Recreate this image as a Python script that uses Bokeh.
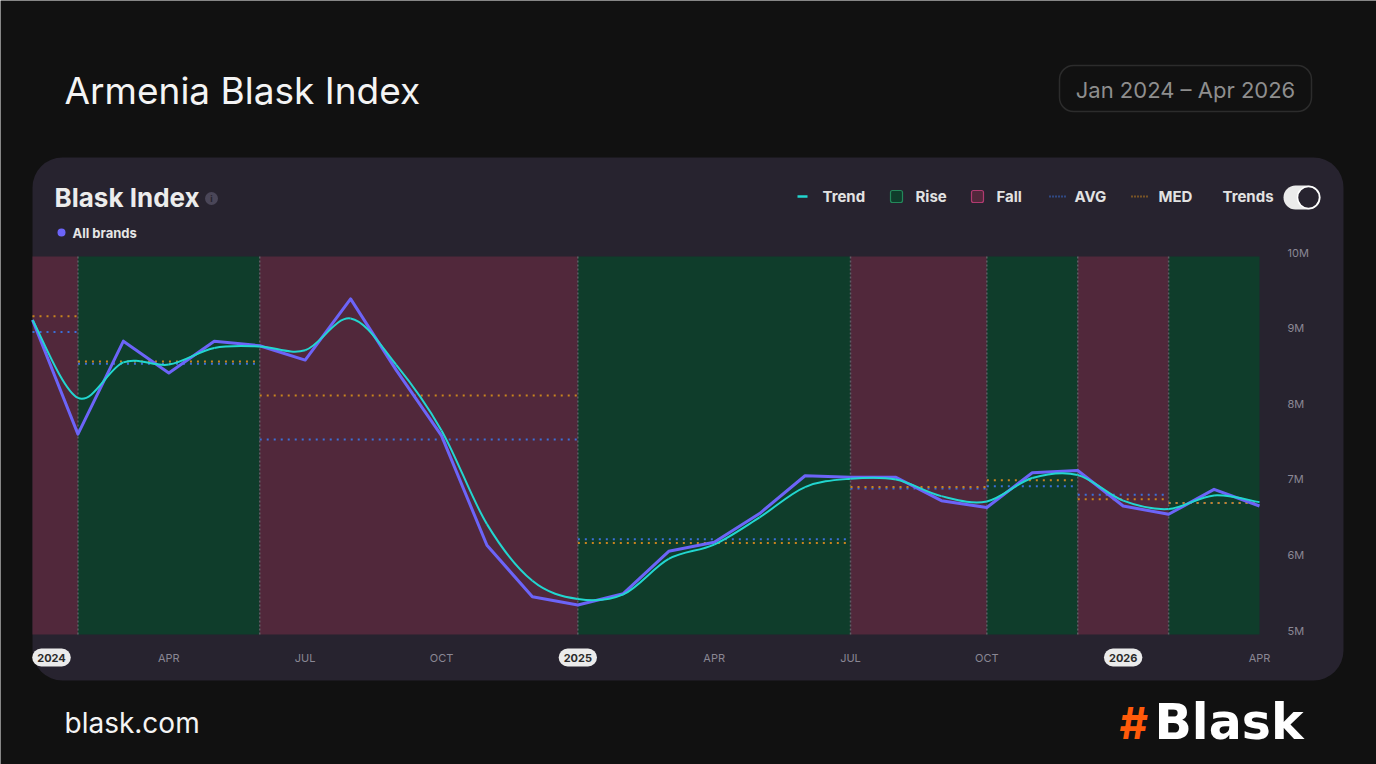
from bokeh.plotting import figure
from bokeh.models import Range1d
from bokeh.core.properties import value
from bokeh.embed import file_html
from bokeh.resources import INLINE

# ---------------- data ----------------
months = ["2024-01", "2024-02", "2024-03", "2024-04", "2024-05", "2024-06", "2024-07",
          "2024-08", "2024-09", "2024-10", "2024-11", "2024-12", "2025-01", "2025-02",
          "2025-03", "2025-04", "2025-05", "2025-06", "2025-07", "2025-08", "2025-09",
          "2025-10", "2025-11", "2025-12", "2026-01", "2026-02", "2026-03", "2026-04"]
blask_index = [9.16, 7.65, 8.88, 8.46, 8.88, 8.82, 8.63, 9.44, 8.50, 7.63, 6.18, 5.50,
               5.39, 5.54, 6.10, 6.22, 6.60, 7.10, 7.08, 7.08, 6.77, 6.68, 7.14, 7.17,
               6.70, 6.59, 6.92, 6.70]
trend = [9.16, 8.13, 8.60, 8.57, 8.79, 8.81, 8.76, 9.18, 8.57, 7.70, 6.46, 5.71,
         5.47, 5.53, 6.00, 6.19, 6.55, 6.95, 7.06, 7.05, 6.83, 6.76, 7.07, 7.11,
         6.77, 6.66, 6.84, 6.75]
seg_start = [0, 1, 5, 12, 18, 21, 23, 25]
seg_end = [1, 5, 12, 18, 21, 23, 25, 27]
seg_kind = ["Fall", "Rise", "Fall", "Rise", "Fall", "Rise", "Fall", "Rise"]
seg_avg = [9.00, 8.58, 7.58, 6.26, 6.93, 6.96, 6.85, 6.74]
seg_med = [9.21, 8.61, 8.16, 6.21, 6.95, 7.04, 6.79, 6.74]
x_tick_pos = [3, 6, 9, 15, 18, 21, 27]
x_tick_labels = ["APR", "JUL", "OCT", "APR", "JUL", "OCT", "APR"]
year_pos = [0, 12, 24]
year_labels = ["2024", "2025", "2026"]
y_ticks = [5, 6, 7, 8, 9, 10]
y_tick_labels = ["5M", "6M", "7M", "8M", "9M", "10M"]

# ---------------- style / layout ----------------
PAGE = "#111111"
CARD = "#27232f"
RISE = "#0f3d2b"
FALL = "#51283b"
PURPLE = "#6c64f8"
CYAN = "#22d6cf"
AVG_C = "#3b6fd8"
MED_C = "#c8841e"
AXIS_C = "#8a8794"
FONT = "Inter"

W, H = 1376, 764
PL, PR, PT, PB = 32, 1259, 256, 634        # plot area in page pixels
VMIN, VMAX = 5, 10
NM = len(months) - 1

mpp = NM / (PR - PL)                        # months per pixel
vpp = (VMAX - VMIN) / (PB - PT)             # value per pixel

p = figure(width=W, height=H, output_backend="svg", toolbar_location=None,
           x_range=Range1d(0, W), y_range=Range1d(H, 0),
           min_border=0, x_axis_location=None, y_axis_location=None)
p.extra_x_ranges = {"m": Range1d(-PL * mpp, NM + (W - PR) * mpp)}
p.extra_y_ranges = {"v": Range1d(VMIN - (H - PB) * vpp, VMAX + PT * vpp)}
p.border_fill_color = PAGE
p.background_fill_color = PAGE
p.outline_line_color = None
p.xgrid.visible = False
p.ygrid.visible = False


def rbox(x0, x1, y0, y1, color, radius=0, line=None, lw=1):
    p.quad(left=[x0], right=[x1], top=[y0], bottom=[y1], fill_color=color,
           line_color=line, line_width=lw, border_radius=radius)


def txt(t, x, y, size, color, style="normal", align="left", font=FONT):
    p.text(x=[x], y=[y], text=[t], text_font=value(font), text_font_size=f"{size}px",
           text_color=color, text_font_style=style, text_align=align,
           text_baseline="middle")


# page header
txt("Armenia Blask Index", 64, 90, 37, "#f4f4f4")
rbox(1059, 1311, 65, 111, PAGE, radius=14, line="#2c2c2c", lw=1.5)
txt("Jan 2024 – Apr 2026", 1185, 89, 22, "#8e8e8e", align="center")

# card
rbox(32, 1343, 157, 680, CARD, radius=30)
txt("Blask Index", 54, 197, 26, "#ececec", style="bold")
p.circle(x=[211], y=[198], radius=6.5, fill_color="#4a4658", line_color=None)
txt("i", 211, 198, 9, CARD, style="bold", align="center")
p.circle(x=[61], y=[232], radius=4, fill_color=PURPLE, line_color=None)
txt("All brands", 72, 232, 13, "#e6e6e6", style="bold")

# legend row
LY = 196
p.segment(x0=[797], x1=[807], y0=[LY], y1=[LY], line_color=CYAN, line_width=2.5)
txt("Trend", 822, LY, 15, "#e2e2e2", style="bold")
rbox(890, 902, 190, 202, RISE, radius=2, line="#23885a", lw=1.2)
txt("Rise", 915, LY, 15, "#e2e2e2", style="bold")
rbox(971, 983, 190, 202, FALL, radius=2, line="#b03a70", lw=1.2)
txt("Fall", 996, LY, 15, "#e2e2e2", style="bold")
p.segment(x0=[1049], x1=[1066], y0=[LY], y1=[LY], line_color=AVG_C, line_width=2,
          line_dash="1 2")
txt("AVG", 1074, LY, 15, "#e2e2e2", style="bold")
p.segment(x0=[1131], x1=[1148], y0=[LY], y1=[LY], line_color=MED_C, line_width=2,
          line_dash="1 2")
txt("MED", 1158, LY, 15, "#e2e2e2", style="bold")
txt("Trends", 1222, LY, 15, "#e2e2e2", style="bold")
rbox(1283, 1320, 185, 209, "#ebebeb", radius=12)
p.circle(x=[1308], y=[197], radius=11, fill_color=CARD, line_color="#ffffff",
         line_width=1.5)

# footer
txt("blask.com", 64, 722, 28, "#f4f4f4")
txt("#", 1119, 722, 44, "#ff5a0a", style="bold")
txt("Blask", 1154, 722, 49, "#ffffff", style="bold", font="DejaVu Sans")

# ---------------- chart (data ranges "m" and "v") ----------------
D = dict(x_range_name="m", y_range_name="v")
band_col = [RISE if k == "Rise" else FALL for k in seg_kind]
p.quad(left=seg_start, right=seg_end, bottom=VMIN, top=VMAX, fill_color=band_col,
       line_color=None, **D)
bounds = seg_start[1:]
p.segment(x0=bounds, x1=bounds, y0=[VMIN] * len(bounds), y1=[VMAX] * len(bounds),
          line_color="#6a6a72", line_width=1.5, line_dash="2 2", line_alpha=0.8, **D)
p.segment(x0=seg_start, x1=seg_end, y0=seg_avg, y1=seg_avg, line_color=AVG_C,
          line_width=2, line_dash="2 5", **D)
p.segment(x0=seg_start, x1=seg_end, y0=seg_med, y1=seg_med, line_color=MED_C,
          line_width=2, line_dash="2 5", **D)

xs = list(range(len(months)))
p.line(xs, blask_index, line_color=PURPLE, line_width=3, line_join="round", **D)

# smooth trend: cubic bezier segments through the monthly trend values
n = len(trend)
bx0, by0, bx1, by1, cx0, cy0, cx1, cy1 = [], [], [], [], [], [], [], []
for i in range(n - 1):
    xm, ym = (xs[i - 1], trend[i - 1]) if i > 0 else (xs[i], trend[i])
    xp, yp = (xs[i + 2], trend[i + 2]) if i + 2 < n else (xs[i + 1], trend[i + 1])
    bx0.append(xs[i]); by0.append(trend[i])
    bx1.append(xs[i + 1]); by1.append(trend[i + 1])
    cx0.append(xs[i] + (xs[i + 1] - xm) / 6); cy0.append(trend[i] + (trend[i + 1] - ym) / 6)
    cx1.append(xs[i + 1] - (xp - xs[i]) / 6); cy1.append(trend[i + 1] - (yp - trend[i]) / 6)
p.bezier(x0=bx0, y0=by0, x1=bx1, y1=by1, cx0=cx0, cy0=cy0, cx1=cx1, cy1=cy1,
         line_color=CYAN, line_width=2, **D)

# time axis labels (x through the month scale)
p.text(x=x_tick_pos, y=[657] * len(x_tick_pos), text=x_tick_labels, x_range_name="m",
       text_font=value(FONT), text_font_size="11px", text_color=AXIS_C,
       text_align="center", text_baseline="middle")
p.text(x=year_pos, y=[657] * len(year_pos), text=year_labels, x_range_name="m",
       x_offset=[19 if v == 0 else 0 for v in year_pos],
       text_font=value(FONT), text_font_size="11px", text_color="#2b2b2b",
       text_font_style="bold", text_align="center", text_baseline="middle",
       background_fill_color="#ebebeb", padding=5, border_radius=10)

# value axis labels (y through the value scale)
p.text(x=[PR + 28] * len(y_ticks), y=y_ticks, text=y_tick_labels, y_range_name="v",
       y_offset=-4, text_font=value(FONT), text_font_size="11px", text_color=AXIS_C,
       text_align="left", text_baseline="middle")

open("out.html", "w").write(file_html(p, INLINE))
